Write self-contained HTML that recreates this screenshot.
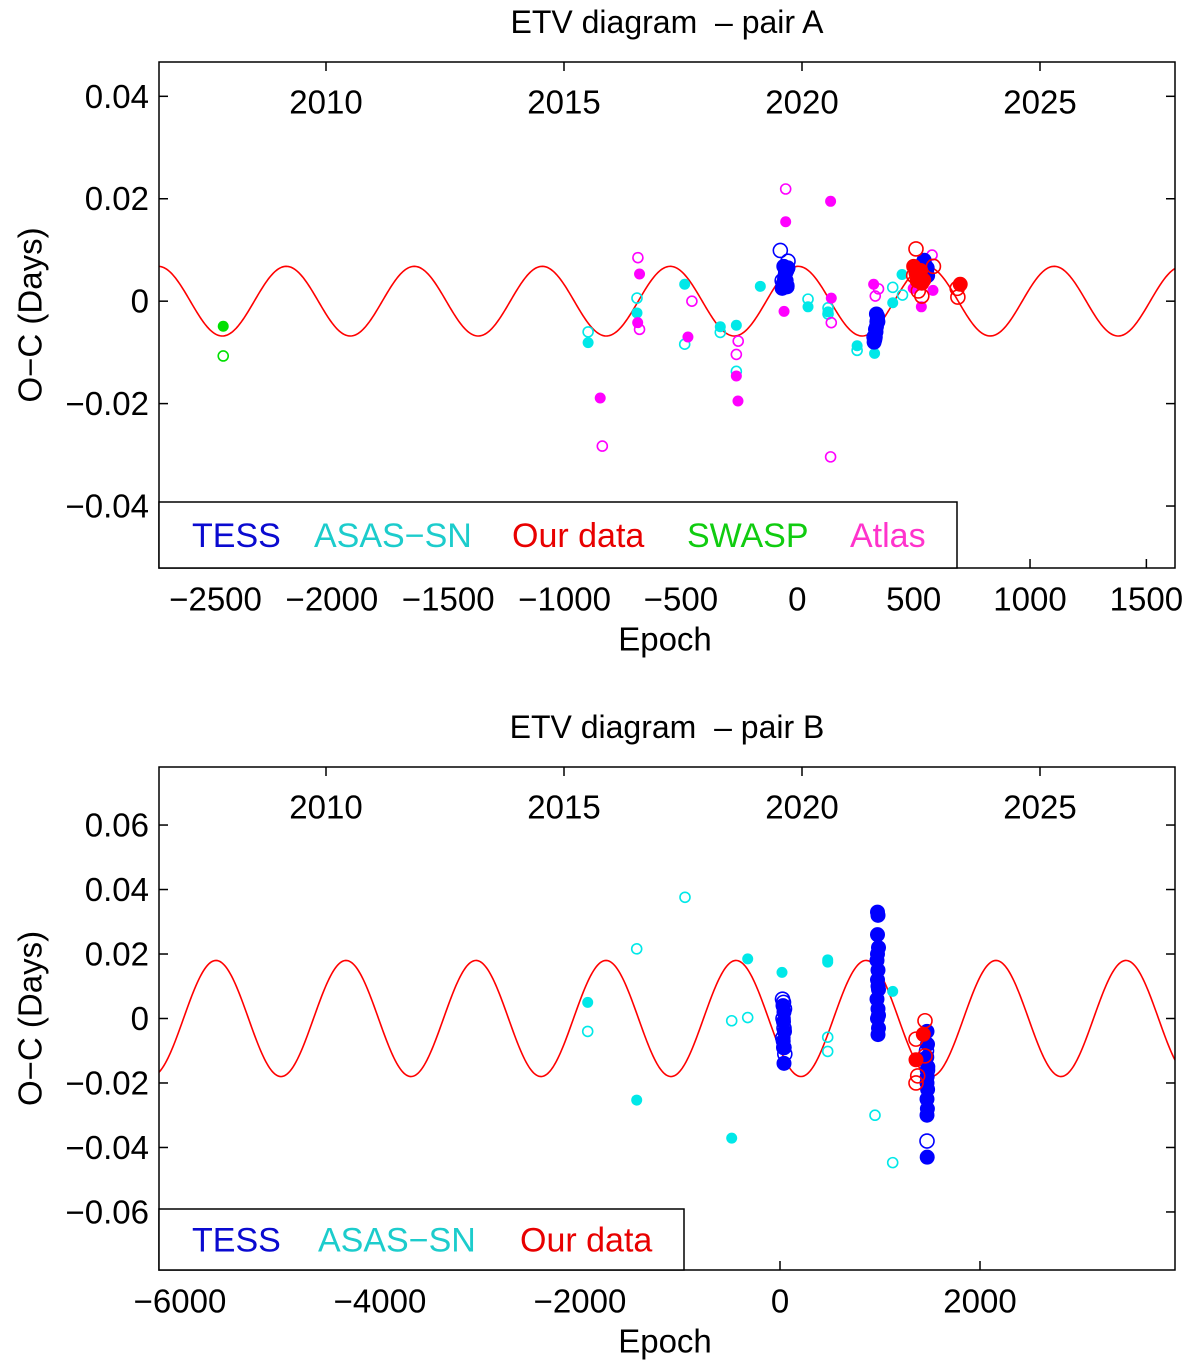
<!DOCTYPE html>
<html><head><meta charset="utf-8"><style>
html,body{margin:0;padding:0;background:#fff;}
svg{display:block;font-family:"Liberation Sans",Arial,sans-serif;}
text{white-space:pre;}
</style></head><body>
<svg id="svg" width="1200" height="1368" viewBox="0 0 1200 1368" xmlns="http://www.w3.org/2000/svg"></svg>
<script>
// ===== Panel A data =====
const aYears = [2010, 2015, 2020, 2025];
const aXTicks = [-2500, -2000, -1500, -1000, -500, 0, 500, 1000, 1500];
const aYTicks = [0.04, 0.02, 0, -0.02, -0.04];
const aYTickLabels = ["0.04", "0.02", "0", "\u22120.02", "\u22120.04"];
const aGreenFillE = [-2467]; const aGreenFillV = [-0.0049];
const aGreenOpenE = [-2467]; const aGreenOpenV = [-0.0107];
const aCyanOpenE = [-899, -689, -484, -331, -262, 46, 132, 132, 257, 410, 452];
const aCyanOpenV = [-0.0060, 0.0006, -0.0084, -0.0061, -0.0137, 0.0004, -0.0013, -0.0025, -0.0096, 0.0027, 0.0012];
const aCyanFillE = [-899, -484, -689, -331, -262, -159, 46, 132, 257, 332, 410, 450];
const aCyanFillV = [-0.0081, 0.0033, -0.0023, -0.0050, -0.0047, 0.0029, -0.0011, -0.0021, -0.0087, -0.0102, -0.0003, 0.0052];
const aMagFillE = [-678, -686, -847, -470, -255, -262, -50, -57, 143, 146, 328, 533, 583, 498];
const aMagFillV = [0.0053, -0.0042, -0.0189, -0.0070, -0.0195, -0.0146, 0.0155, -0.0020, 0.0195, 0.0006, 0.0033, -0.0011, 0.0021, 0.0025];
const aMagOpenE = [-685, -678, -838, -453, -254, -262, -50, 146, 143, 335, 349, 579];
const aMagOpenV = [0.0085, -0.0055, -0.0283, 0.0, -0.0078, -0.0104, 0.0219, -0.0042, -0.0304, 0.0010, 0.0024, 0.0090];
const aBlueOpenE = [-73, -40, -50, -65, -45, 330, 345];
const aBlueOpenV = [0.0099, 0.0078, 0.0060, 0.0040, 0.0030, -0.0070, -0.0040];
const aBlueFillE = [-65, -60, -55, -50, -45, -40, -62, -48, -52, -58, -44, 330, 335, 338, 340, 342, 345, 333, 340, 336, 344, 545, 550, 555, 560, 548, 540, 558];
const aBlueFillV = [0.0025, 0.0035, 0.0045, 0.0055, 0.0060, 0.0065, 0.0030, 0.0040, 0.0052, 0.0068, 0.0028, -0.0080, -0.0070, -0.0060, -0.0050, -0.0040, -0.0030, -0.0075, -0.0025, -0.0055, -0.0035, 0.0080, 0.0070, 0.0060, 0.0050, 0.0045, 0.0075, 0.0065];
const aRedFillE = [500, 522, 543, 700, 510, 530, 515, 535];
const aRedFillV = [0.0068, 0.0048, 0.0041, 0.0033, 0.0055, 0.0060, 0.0040, 0.0035];
const aRedOpenE = [510, 585, 535, 687, 690, 520, 500];
const aRedOpenV = [0.0102, 0.0068, 0.0010, 0.0025, 0.0008, 0.0020, 0.0050];
const aModel = {amp: 0.0068, period: 550, t0: 829, sign: -1};

// ===== Panel B data =====
const bYears = [2010, 2015, 2020, 2025];
const bXTicks = [-6000, -4000, -2000, 0, 2000];
const bXTickLabels = ["\u22126000", "\u22124000", "\u22122000", "0", "2000"];
const bYTicks = [0.06, 0.04, 0.02, 0, -0.02, -0.04, -0.06];
const bYTickLabels = ["0.06", "0.04", "0.02", "0", "\u22120.02", "\u22120.04", "\u22120.06"];
const bCyanOpenE = [-950, -1433, -1923, -483, -323, 477, 477, 950, 1127];
const bCyanOpenV = [0.0376, 0.0216, -0.0040, -0.0007, 0.0003, -0.0058, -0.0102, -0.0300, -0.0447];
const bCyanFillE = [-1923, -1433, -483, -323, 20, 477, 477, 1127];
const bCyanFillV = [0.0050, -0.0253, -0.0371, 0.0185, 0.0143, 0.0182, 0.0175, 0.0084];
const bBlueOpenE = [25, 35, 45, 30, 40, 28, 38, 48, 1470, 1465, 1475];
const bBlueOpenV = [0.006, 0.005, 0.003, 0.0, -0.003, -0.006, -0.009, -0.011, -0.038, -0.010, -0.016];
const bBlueFillE = [30, 40, 35, 45, 32, 42, 40, 975, 980, 975, 985, 970, 980, 975, 985, 970, 980, 975, 985, 980, 975, 980, 985, 1470, 1475, 1468, 1478, 1472, 1470, 1476, 1470, 1474, 1470, 1472];
const bBlueFillV = [0.004, 0.002, -0.001, -0.004, -0.007, -0.009, -0.0139, 0.033, 0.032, 0.026, 0.022, 0.018, 0.015, 0.012, 0.009, 0.006, 0.003, 0.0, -0.003, -0.005, 0.020, 0.010, 0.001, -0.004, -0.008, -0.012, -0.015, -0.018, -0.020, -0.022, -0.025, -0.028, -0.030, -0.043];
const bRedFillE = [1433, 1360];
const bRedFillV = [-0.0049, -0.0128];
const bRedOpenE = [1450, 1360, 1450, 1377, 1360];
const bRedOpenV = [-0.0007, -0.0064, -0.0116, -0.0178, -0.0200];
const bModel = {amp: 0.018, period: 1300, t0: -1740, sign: 1};

const NS = "http://www.w3.org/2000/svg";
const svg = document.getElementById("svg");
const FS = 33;
function mk(tag, attrs, parent) {
  const el = document.createElementNS(NS, tag);
  for (const k in attrs) el.setAttribute(k, attrs[k]);
  (parent || svg).appendChild(el);
  return el;
}
function txt(s, x, y, size, color, parent, anchor) {
  const t = mk("text", {x: x, y: y, "font-size": size, fill: color, "text-anchor": anchor || "middle", "dominant-baseline": "central"}, parent);
  t.textContent = s;
  return t;
}

function panel(cfg) {
  const g = mk("g", {});
  
  
  const L = 159, R = 1175, T = cfg.top, B = cfg.bottom;
  const xs = e => L + (e - cfg.xmin) / (cfg.xmax - cfg.xmin) * (R - L);
  const ys = v => T + (cfg.ymax - v) / (cfg.ymax - cfg.ymin) * (B - T);
  const clipId = "clip" + cfg.name;
  const cp = mk("clipPath", {id: clipId}, g);
  mk("rect", {x: L, y: T, width: R - L, height: B - T}, cp);

  const title = txt(cfg.title, 667, cfg.titleY, 32, "#000", g);
  
  

  let d = "";
  for (let i = 0; i <= 800; i++) {
    const e = cfg.xmin + (cfg.xmax - cfg.xmin) * i / 800;
    const v = cfg.model.sign * cfg.model.amp * Math.cos(2 * Math.PI * (e - cfg.model.t0) / cfg.model.period);
    d += (i ? "L" : "M") + xs(e).toFixed(2) + " " + ys(v).toFixed(2);
  }
  const curve = mk("path", {d: d, fill: "none", stroke: "#ff0000", "stroke-width": 1.6, "clip-path": "url(#" + clipId + ")"}, g);
  
  

  const mg = mk("g", {"clip-path": "url(#" + clipId + ")"}, g);
  
  
  cfg.series.forEach(s => {
    for (let i = 0; i < s.e.length; i++) {
      const c = mk("circle", {cx: xs(s.e[i]), cy: ys(s.v[i]), r: s.r,
        fill: s.fill ? s.color : "none", stroke: s.color, "stroke-width": s.fill ? 0 : 1.6}, mg);
      
      
    }
  });

  const frame = mk("rect", {x: L, y: T, width: R - L, height: B - T, fill: "none", stroke: "#000", "stroke-width": 1.5}, g);
  
  

  cfg.yTicks.forEach((v, i) => {
    const y = ys(v);
    mk("line", {x1: L, x2: L + 9, y1: y, y2: y, stroke: "#000", "stroke-width": 1.5}, g);
    mk("line", {x1: R, x2: R - 9, y1: y, y2: y, stroke: "#000", "stroke-width": 1.5}, g);
    const t = txt(cfg.yTickLabels[i], L - 10, y, FS, "#000", g, "end");
    
    
  });
  cfg.xTicks.forEach((e, i) => {
    const x = xs(e);
    mk("line", {x1: x, x2: x, y1: B, y2: B - 9, stroke: "#000", "stroke-width": 1.5}, g);
    const t = txt(cfg.xTickLabels[i], x, B + 31, FS, "#000", g);
    
    
  });
  cfg.years.forEach(yr => {
    const x = 326 + (yr - 2010) / 5 * 238;
    mk("line", {x1: x, x2: x, y1: T, y2: T + 9, stroke: "#000", "stroke-width": 1.5}, g);
    const t = txt(String(yr), x, T + 40, FS, "#000", g);
    
    
  });

  const xl = txt("Epoch", 665, B + 71, FS, "#000", g);
  
  
  const cy = (T + B) / 2;
  const yl = txt("O\u2212C (Days)", 30, cy, FS, "#000", g);
  yl.setAttribute("transform", "rotate(-90 30 " + cy + ")");
  
  

  const lg = mk("g", {}, g);
  
  
  mk("rect", {x: L, y: cfg.legTop, width: cfg.legRight - L, height: B - cfg.legTop, fill: "#fff", stroke: "#000", "stroke-width": 1.5}, lg);
  const ly = (cfg.legTop + B) / 2 + 1;
  cfg.legend.forEach(en => {
    const t = txt(en.label, en.x, ly, 34, en.color, lg, "start");
    
    
  });
}

const cB = "#0000ff", cC = "#00e8e8", cM = "#ff00ff", cR = "#ff0000", cG = "#00e000";
panel({
  name: "panel-a", title: "ETV diagram  \u2013 pair A", titleY: 22, top: 62, bottom: 568,
  xmin: -2743, xmax: 1623, ymin: -0.0521, ymax: 0.0467,
  xTicks: aXTicks, xTickLabels: aXTicks.map(v => v < 0 ? "\u2212" + (-v) : String(v)),
  yTicks: aYTicks, yTickLabels: aYTickLabels, years: aYears, model: aModel,
  legTop: 502, legRight: 957,
  legend: [{label: "TESS", x: 192, color: "#0a0ad0"}, {label: "ASAS\u2212SN", x: 314, color: "#1ccccc"},
           {label: "Our data", x: 512, color: "#e80000"}, {label: "SWASP", x: 687, color: "#10cc10"},
           {label: "Atlas", x: 850, color: "#ff33cc"}],
  series: [
    {name: "asassn-open", e: aCyanOpenE, v: aCyanOpenV, color: cC, fill: false, r: 5},
    {name: "asassn", e: aCyanFillE, v: aCyanFillV, color: cC, fill: true, r: 5.5},
    {name: "atlas-open", e: aMagOpenE, v: aMagOpenV, color: cM, fill: false, r: 5},
    {name: "atlas", e: aMagFillE, v: aMagFillV, color: cM, fill: true, r: 5.5},
    {name: "swasp", e: aGreenFillE, v: aGreenFillV, color: cG, fill: true, r: 5.5},
    {name: "swasp-open", e: aGreenOpenE, v: aGreenOpenV, color: cG, fill: false, r: 5},
    {name: "tess-open", e: aBlueOpenE, v: aBlueOpenV, color: cB, fill: false, r: 7},
    {name: "tess", e: aBlueFillE, v: aBlueFillV, color: cB, fill: true, r: 7.5},
    {name: "our-data", e: aRedFillE, v: aRedFillV, color: cR, fill: true, r: 7.5},
    {name: "our-data-open", e: aRedOpenE, v: aRedOpenV, color: cR, fill: false, r: 7}
  ]
});
panel({
  name: "panel-b", title: "ETV diagram  \u2013 pair B", titleY: 727, top: 767, bottom: 1270,
  xmin: -6210, xmax: 3950, ymin: -0.078, ymax: 0.078,
  xTicks: bXTicks, xTickLabels: bXTickLabels,
  yTicks: bYTicks, yTickLabels: bYTickLabels, years: bYears, model: bModel,
  legTop: 1209, legRight: 684,
  legend: [{label: "TESS", x: 192, color: "#0a0ad0"}, {label: "ASAS\u2212SN", x: 318, color: "#1ccccc"},
           {label: "Our data", x: 520, color: "#e80000"}],
  series: [
    {name: "asassn-open", e: bCyanOpenE, v: bCyanOpenV, color: cC, fill: false, r: 5},
    {name: "asassn", e: bCyanFillE, v: bCyanFillV, color: cC, fill: true, r: 5.5},
    {name: "tess-open", e: bBlueOpenE, v: bBlueOpenV, color: cB, fill: false, r: 7},
    {name: "tess", e: bBlueFillE, v: bBlueFillV, color: cB, fill: true, r: 7.5},
    {name: "our-data", e: bRedFillE, v: bRedFillV, color: cR, fill: true, r: 7.5},
    {name: "our-data-open", e: bRedOpenE, v: bRedOpenV, color: cR, fill: false, r: 7}
  ]
});
</script>
</body></html>
